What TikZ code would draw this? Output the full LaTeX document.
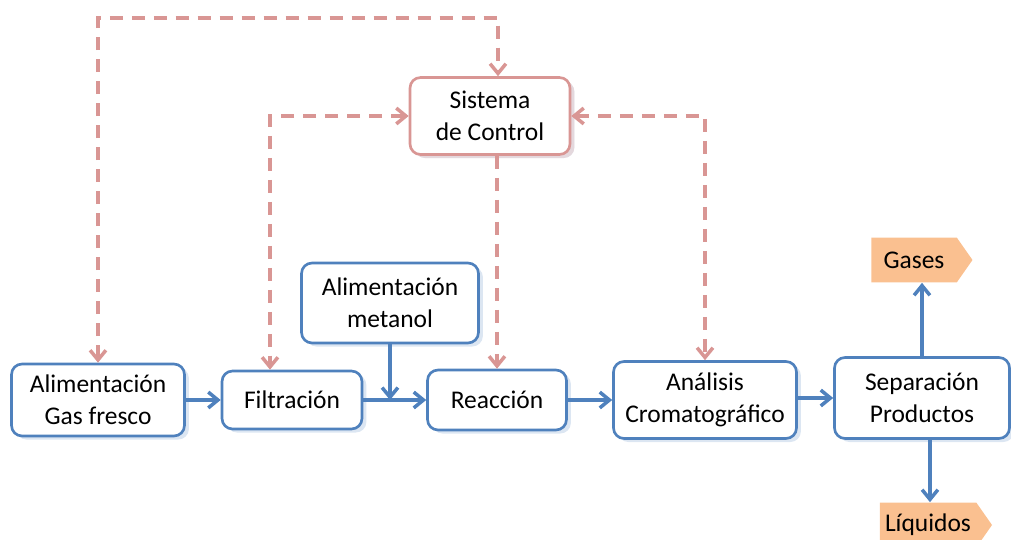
\documentclass[tikz,border=0pt]{standalone}
\usepackage{fontspec}
\setmainfont{Carlito}
\usepackage{tikz}
\usetikzlibrary{arrows.meta, positioning, shapes.symbols, shadows}
\definecolor{azul}{RGB}{79,129,189}
\definecolor{rosa}{RGB}{217,150,148}
\definecolor{naranja}{RGB}{250,192,144}

\begin{document}
\begin{tikzpicture}[x=0.02cm, y=-0.02cm,
    font=\fontsize{14.5}{18}\selectfont,
    >={Straight Barb[length=5.5pt, width=9pt]},
    etapa/.style={draw=azul, line width=1.5pt, rounded corners=6pt, fill=white, align=center,
        drop shadow={shadow xshift=2.5pt, shadow yshift=-2pt, fill=azul!40, opacity=0.5}},
    control/.style={etapa, draw=rosa, drop shadow={shadow xshift=2.5pt, shadow yshift=-2pt, fill=rosa!50, opacity=0.5}},
    salida/.style={signal, signal to=east, signal pointer angle=110, fill=naranja, minimum height=0.9cm, inner xsep=7pt},
    flujo/.style={azul, line width=2pt, ->},
    senal/.style={rosa, line width=2pt, dash pattern=on 0.26cm off 0.18cm}]
\useasboundingbox (0,0) rectangle (1011,540);

% etapas del proceso
\node[etapa, minimum width=3.46cm, minimum height=1.44cm] (gasfresco) at (98,400) {Alimentación\\Gas fresco};
\node[etapa, minimum width=2.8cm, minimum height=1.16cm] (filtro) at (292,400) {Filtración};
\node[etapa, minimum width=3.54cm, minimum height=1.6cm] (metanol) at (390,303) {Alimentación\\metanol};
\node[etapa, minimum width=2.78cm, minimum height=1.2cm] (reaccion) at (497,400) {Reacción};
\node[etapa, minimum width=3.66cm, minimum height=1.54cm] (analisis) at (705,400) {Análisis\\Cromatográfico};
\node[etapa, minimum width=3.5cm, minimum height=1.62cm] (separacion) at (922,398) {Separación\\Productos};
\node[control, minimum width=3.2cm, minimum height=1.54cm] (sistema) at (490,116) {Sistema\\de Control};
\node[salida, minimum width=2.02cm] (gases) at (914,260) {Gases};
\node[salida, inner xsep=3pt] (liquidos) at (928,525) {Líquidos};

\coordinate (union) at (390,400);
\coordinate (tope) at (498,18);
\coordinate (codo) at (270,116);

% flujo de materia
\draw[flujo] (gasfresco) -- (filtro);
\draw[flujo] (filtro) -- (reaccion);
\draw[flujo] (metanol) -- (union);
\draw[flujo] (analisis.west -| reaccion.east) -- (analisis);
\draw[flujo] (separacion.west -| analisis.east) -- (separacion);
\draw[flujo] (separacion.north) -- (gases.south -| separacion.north);
\draw[flujo] ([xshift=0.04cm]liquidos.north |- separacion.south) -- ([xshift=0.04cm]liquidos.north);

% lazos de control
\draw[senal, <->] (gasfresco.north) |- (tope) -- (tope |- sistema.north);
\draw[senal, <->] (sistema.west) -- (codo) -- (codo |- filtro.north);
\draw[senal, ->] (reaccion.north |- sistema.south) -- (reaccion.north);
\draw[senal, <->] (sistema.east) -| (analisis.north);
\end{tikzpicture}
\end{document}
